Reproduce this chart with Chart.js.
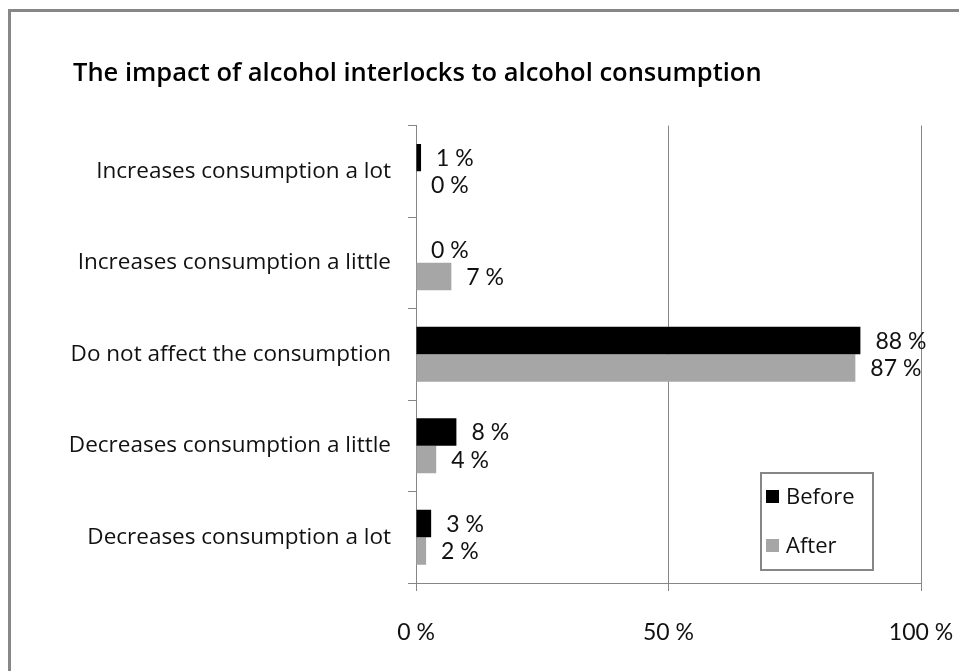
<!DOCTYPE html>
<html>
<head>
<meta charset="utf-8">
<script src="https://cdn.jsdelivr.net/npm/chart.js@4.4.0/dist/chart.umd.min.js"></script>
<style>
  html, body { margin: 0; padding: 0; background: #fff; }
  #wrap { position: relative; width: 959px; height: 671px; overflow: hidden; }
  #frame { position: absolute; left: 8px; top: 9px; width: 980px; height: 700px;
           border-left: 3px solid #878787; border-top: 3px solid #878787; box-sizing: border-box; }
  canvas { position: absolute; left: 0; top: 0; }
</style>
</head>
<body>
<div id="wrap">
  <div id="frame"></div>
  <canvas id="c" width="959" height="671"></canvas>
</div>
<script>
const chartTitle = 'The impact of alcohol interlocks to alcohol consumption';
const categories = [
  'Increases consumption a lot',
  'Increases consumption a little',
  'Do not affect the consumption',
  'Decreases consumption a little',
  'Decreases consumption a lot'
];
const beforeValues = [1, 0, 88, 8, 3];
const afterValues = [0, 7, 87, 4, 2];
const xTicks = [0, 50, 100];

const FONT = '"Open Sans", Lato, sans-serif';
const NUM_FONT = 'Lato, "Open Sans", sans-serif';
const GRID = '#868686';
const PAD_LEFT = 40;
const AXIS_X = 416;

// Title starts further right than the category labels
const titleIndent = {
  id: 'titleIndent',
  afterLayout(chart) {
    if (chart.titleBlock) chart.titleBlock.left = 73;
  }
};

// Percentage labels placed just past the end of every bar
const valueLabels = {
  id: 'valueLabels',
  afterDatasetsDraw(chart) {
    const ctx = chart.ctx;
    ctx.save();
    ctx.font = '23px ' + NUM_FONT;
    ctx.fillStyle = '#111';
    ctx.textAlign = 'left';
    ctx.textBaseline = 'middle';
    chart.data.datasets.forEach((ds, i) => {
      const meta = chart.getDatasetMeta(i);
      meta.data.forEach((bar, j) => {
        ctx.fillText(ds.data[j] + ' %', bar.x + 15, bar.y + 1);
      });
    });
    ctx.restore();
  }
};

// Boxed legend sitting in the lower right corner of the plot area
const boxLegend = {
  id: 'boxLegend',
  afterDraw(chart) {
    const ctx = chart.ctx;
    const area = chart.chartArea;
    const w = 112, h = 97;
    const x = area.right - 48 - w;
    const y = area.bottom - 13 - h;
    ctx.save();
    ctx.fillStyle = '#fff';
    ctx.fillRect(x, y, w, h);
    ctx.strokeStyle = GRID;
    ctx.lineWidth = 2;
    ctx.strokeRect(x, y, w, h);
    ctx.font = '22px ' + FONT;
    ctx.textAlign = 'left';
    ctx.textBaseline = 'middle';
    chart.data.datasets.forEach((ds, i) => {
      const cy = y + 24 + i * 49;
      ctx.fillStyle = ds.backgroundColor;
      ctx.fillRect(x + 5, cy - 7, 13, 13);
      ctx.fillStyle = '#111';
      ctx.fillText(ds.label, x + 25, cy + 1);
    });
    ctx.restore();
  }
};

new Chart(document.getElementById('c'), {
  type: 'bar',
  data: {
    labels: categories,
    datasets: [
      { label: 'Before', data: beforeValues, backgroundColor: '#000000' },
      { label: 'After', data: afterValues, backgroundColor: '#a6a6a6' }
    ]
  },
  options: {
    indexAxis: 'y',
    responsive: false,
    animation: false,
    devicePixelRatio: 1,
    layout: { padding: { left: PAD_LEFT, right: 38, top: 0, bottom: 26 } },
    datasets: { bar: { categoryPercentage: 0.6, barPercentage: 1.0 } },
    plugins: {
      legend: { display: false },
      tooltip: { enabled: false },
      title: {
        display: true,
        text: chartTitle,
        align: 'start',
        color: '#000',
        font: { family: FONT, size: 25.5, weight: '600', lineHeight: 1.2 },
        padding: { top: 58, bottom: 37 }
      }
    },
    scales: {
      x: {
        min: 0, max: 100,
        afterBuildTicks(scale) { scale.ticks = xTicks.map(v => ({ value: v })); },
        afterFit(scale) { scale.height = 62; },
        border: { display: true, color: GRID, width: 1 },
        grid: { color: GRID, lineWidth: 1, tickLength: 8, drawTicks: true },
        ticks: {
          color: '#111',
          padding: 0,
          maxRotation: 0,
          font: { family: NUM_FONT, size: 23, lineHeight: 3.65 },
          callback: v => v + ' %'
        }
      },
      y: {
        afterFit(scale) { scale.width = AXIS_X - PAD_LEFT; },
        border: { display: true, color: GRID, width: 1 },
        grid: { display: true, drawOnChartArea: false, color: GRID, tickLength: 8 },
        ticks: {
          color: '#111',
          padding: 17,
          font: { family: FONT, size: 22.5, lineHeight: 1.2 }
        }
      }
    }
  },
  plugins: [titleIndent, valueLabels, boxLegend]
});
</script>
</body>
</html>
